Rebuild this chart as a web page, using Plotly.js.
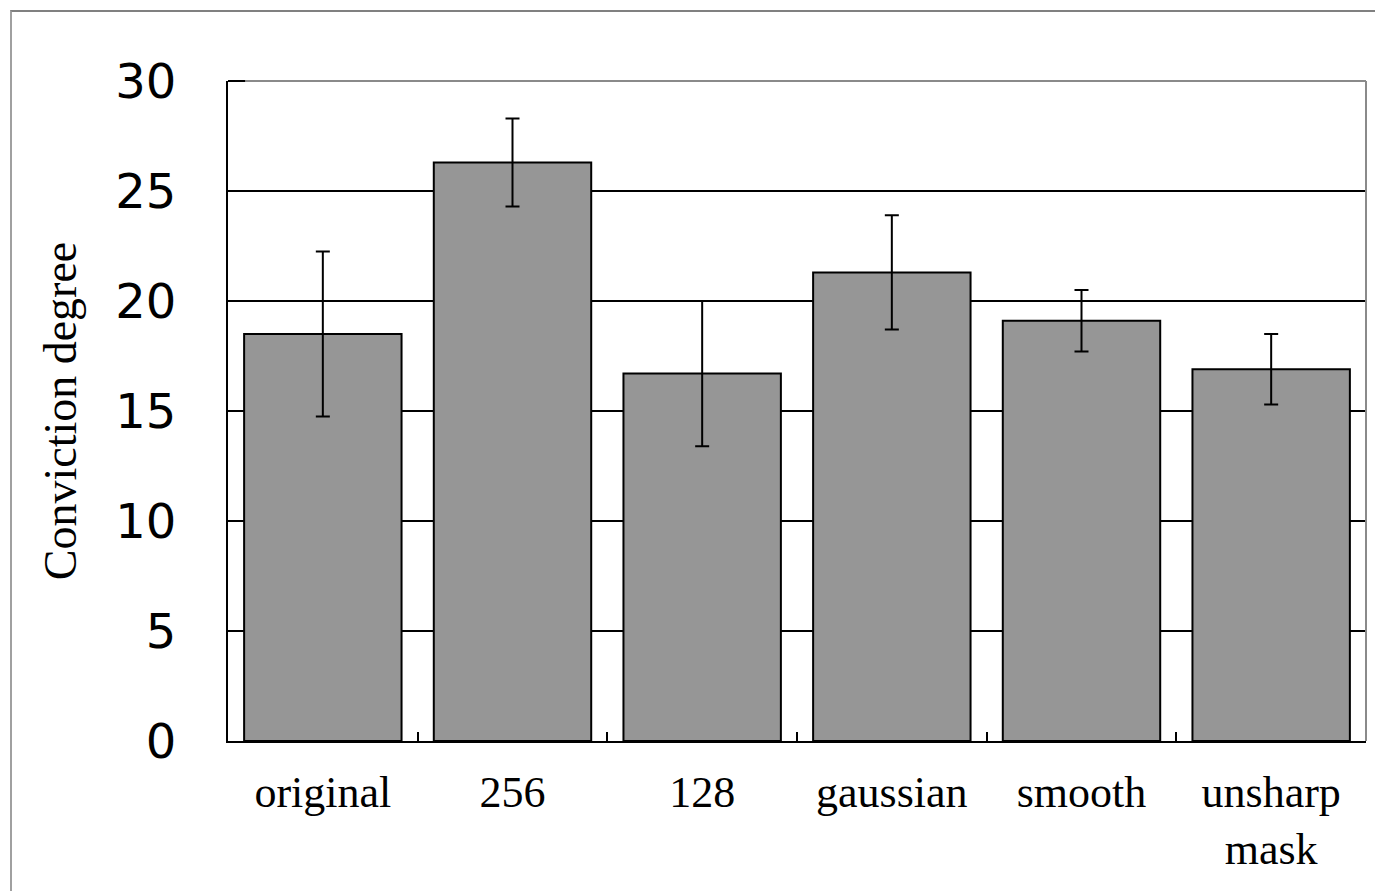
<!DOCTYPE html>
<html>
<head>
<meta charset="utf-8">
<script src="https://cdn.plot.ly/plotly-3.0.1.min.js"></script>
<style>
html,body{margin:0;padding:0;background:#fff;}
#wrap{position:relative;width:1375px;height:891px;}
#chart{width:1375px;height:891px;}
#frame{position:absolute;left:10px;top:10px;width:1365px;height:881px;border-left:2px solid #a0a0a0;border-top:2px solid #808080;pointer-events:none;box-sizing:border-box;}
</style>
</head>
<body>
<div id="wrap"><div id="chart"></div><div id="frame"></div></div>
<script>
const categories = ["original", "256", "128", "gaussian", "smooth", "unsharp<br>mask"];
const means = [18.5, 26.3, 16.7, 21.3, 19.1, 16.9];
const errors = [3.75, 2.0, 3.3, 2.6, 1.4, 1.6];
const yTicks = [0, 5, 10, 15, 20, 25, 30];

const trace = {
  type: 'bar',
  x: categories,
  y: means,
  marker: {color: '#969696', line: {color: '#000', width: 2}},
  error_y: {type: 'data', array: errors, visible: true, color: '#000', thickness: 2, width: 7},
  hoverinfo: 'none'
};

const layout = {
  width: 1375, height: 891,
  margin: {l: 228, r: 9, t: 81, b: 150},
  paper_bgcolor: '#fff', plot_bgcolor: '#fff',
  showlegend: false,
  bargap: 0.17,
  xaxis: {
    type: 'category',
    showline: true, linecolor: '#000', linewidth: 2,
    ticks: 'inside', tickson: 'boundaries', ticklen: 9, tickcolor: '#000', tickwidth: 2,
    showgrid: false,
    tickfont: {family: 'Liberation Serif', size: 44, color: '#000'},
    ticklabelstandoff: 11
  },
  yaxis: {
    range: [0, 30],
    tickvals: yTicks,
    ticktext: yTicks.map(String),
    showline: true, linecolor: '#000', linewidth: 2,
    ticks: '',
    showgrid: true, gridcolor: '#000', gridwidth: 2,
    zeroline: false,
    tickfont: {family: 'DejaVu Sans', size: 48, color: '#000'},
    ticklabelstandoff: 40,
    title: {text: 'Conviction degree', font: {family: 'Liberation Serif', size: 46, color: '#000'}, standoff: 24}
  },
  shapes: [
    {type: 'line', xref: 'paper', yref: 'paper', x0: 0, x1: 1, y0: 1, y1: 1, line: {color: '#8a8a8a', width: 2}, layer: 'above'},
    {type: 'line', xref: 'paper', yref: 'paper', x0: 0, x1: 0.015, y0: 1, y1: 1, line: {color: '#000', width: 2}, layer: 'above'},
    {type: 'line', xref: 'paper', yref: 'paper', x0: 1, x1: 1, y0: 0, y1: 1, line: {color: '#8a8a8a', width: 2}, layer: 'above'}
  ]
};

Plotly.newPlot('chart', [trace], layout, {staticPlot: true});
</script>
</body>
</html>
